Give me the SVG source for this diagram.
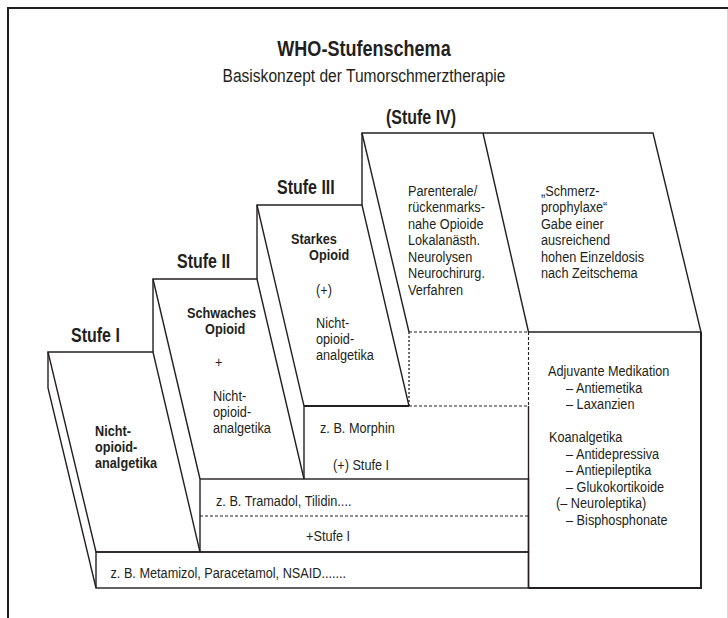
<svg xmlns="http://www.w3.org/2000/svg" width="728" height="618" viewBox="0 0 728 618">
<style>
.s{fill:none;stroke:#231f20;stroke-width:1.4;stroke-linejoin:miter}
.h{fill:none;stroke:#231f20;stroke-width:2}
.d{fill:none;stroke:#231f20;stroke-width:1.1;stroke-dasharray:3 2}
.dt{fill:none;stroke:#231f20;stroke-width:1.3;stroke-dasharray:2 2}
text{font-family:"Liberation Sans",Arial,sans-serif;fill:#231f20}
.t{font-size:15.5px}
.b{font-size:15.5px;font-weight:bold}
.lab{font-size:19.5px;font-weight:bold}
</style>
<rect width="728" height="618" fill="#fff"/>
<g id="frame">
<line x1="8" y1="8" x2="728" y2="8" class="h"/>
<line x1="8" y1="7" x2="8" y2="618" class="h"/>
<line x1="727.5" y1="9" x2="727.5" y2="618" stroke="#d8d8d8" stroke-width="1"/>
</g>
<g id="title">
<text transform="matrix(0.82 0 0 1 364 0)" x="0" y="56" text-anchor="middle" font-size="22" font-weight="bold">WHO-Stufenschema</text>
<text transform="matrix(0.82 0 0 1 364 0)" x="0" y="82" text-anchor="middle" font-size="19">Basiskonzept der Tumorschmerztherapie</text>
</g>
<g id="stufe1">
<text transform="matrix(0.82 0 0 1 71 0)" x="0" y="342" class="lab">Stufe I</text>
<polygon points="48,352 153,352 200,552 96,552" class="s"/>
<polyline points="48,352 48,388 96,588" class="s"/>
<text transform="matrix(0.82 0 0 1 95 0)" class="b"><tspan x="0" y="436">Nicht-</tspan><tspan x="0" y="452">opioid-</tspan><tspan x="0" y="468">analgetika</tspan></text>
</g>
<g id="stufe1-front">
<rect x="96" y="552" width="432.5" height="36" class="s"/>
<text transform="matrix(0.82 0 0 1 110.5 0)" x="0" y="578" class="t">z. B. Metamizol, Paracetamol, NSAID.......</text>
</g>
<g id="stufe2">
<text transform="matrix(0.82 0 0 1 177 0)" x="0" y="268" class="lab">Stufe II</text>
<polyline points="153,352 153,279 257,279 304,479" class="s"/>
<line x1="153" y1="279" x2="200" y2="479" class="s"/>
<text transform="matrix(0.82 0 0 1 187 0)" class="b"><tspan x="0" y="318">Schwaches</tspan><tspan x="22" y="334">Opioid</tspan></text>
<text transform="matrix(0.82 0 0 1 215 0)" x="0" y="367" class="t">+</text>
<text transform="matrix(0.82 0 0 1 213 0)" class="t"><tspan x="0" y="401">Nicht-</tspan><tspan x="0" y="417">opioid-</tspan><tspan x="0" y="433">analgetika</tspan></text>
</g>
<g id="stufe2-front">
<rect x="200" y="479" width="328.5" height="73" class="s"/>
<line x1="200" y1="516" x2="528" y2="516" class="d"/>
<text transform="matrix(0.82 0 0 1 216 0)" x="0" y="506" class="t">z. B. Tramadol, Tilidin....</text>
<text transform="matrix(0.82 0 0 1 306 0)" x="0" y="541" class="t">+Stufe I</text>
</g>
<g id="stufe3">
<text transform="matrix(0.82 0 0 1 277 0)" x="0" y="194" class="lab">Stufe III</text>
<polyline points="257,279 257,205 362,205 409,406" class="s"/>
<polyline points="257,205 304,406 304,479" class="s"/>
<line x1="304" y1="406" x2="409" y2="406" class="h"/>
<text transform="matrix(0.82 0 0 1 291 0)" class="b"><tspan x="0" y="244">Starkes</tspan><tspan x="22" y="260">Opioid</tspan></text>
<text transform="matrix(0.82 0 0 1 316 0)" x="0" y="295" class="t">(+)</text>
<text transform="matrix(0.82 0 0 1 316 0)" class="t"><tspan x="0" y="328">Nicht-</tspan><tspan x="0" y="344">opioid-</tspan><tspan x="0" y="360">analgetika</tspan></text>
</g>
<g id="stufe3-front">
<text transform="matrix(0.82 0 0 1 320 0)" x="0" y="433" class="t">z. B. Morphin</text>
<text transform="matrix(0.82 0 0 1 333 0)" x="0" y="470" class="t">(+) Stufe I</text>
</g>
<g id="stufe4">
<text transform="matrix(0.82 0 0 1 421 0)" x="0" y="124" class="lab" text-anchor="middle">(Stufe IV)</text>
<polyline points="362,205 362,133 653,133 701,332 528.5,332" class="s"/>
<line x1="362" y1="133" x2="409" y2="332" class="s"/>
<line x1="483" y1="133" x2="528.5" y2="332" class="s"/>
<line x1="409" y1="332" x2="528.5" y2="332" class="d"/>
<line x1="409" y1="332" x2="409" y2="406" class="dt"/>
<line x1="409" y1="406" x2="528.5" y2="406" class="d"/>
<line x1="528.5" y1="332" x2="528.5" y2="406" class="d"/>
<text transform="matrix(0.82 0 0 1 408 0)" class="t"><tspan x="0" y="196">Parenterale/</tspan><tspan x="0" y="212.5">rückenmarks-</tspan><tspan x="0" y="229">nahe Opioide</tspan><tspan x="0" y="245.5">Lokalanästh.</tspan><tspan x="0" y="262">Neurolysen</tspan><tspan x="0" y="278.5">Neurochirurg.</tspan><tspan x="0" y="295">Verfahren</tspan></text>
<text transform="matrix(0.82 0 0 1 541 0)" class="t"><tspan x="0" y="196">„Schmerz-</tspan><tspan x="0" y="212.5">prophylaxe“</tspan><tspan x="0" y="229">Gabe einer</tspan><tspan x="0" y="245.5">ausreichend</tspan><tspan x="0" y="262">hohen Einzeldosis</tspan><tspan x="0" y="278.5">nach Zeitschema</tspan></text>
</g>
<g id="adjuvant">
<line x1="528.5" y1="406" x2="528.5" y2="588" class="s"/>
<polyline points="701,332 701,588 528.5,588" class="h"/>
<text transform="matrix(0.82 0 0 1 548 0)" class="t"><tspan x="0" y="376.5">Adjuvante Medikation</tspan><tspan x="22" y="393">– Antiemetika</tspan><tspan x="22" y="409.5">– Laxanzien</tspan><tspan x="1.2" y="442.5">Koanalgetika</tspan><tspan x="22" y="459">– Antidepressiva</tspan><tspan x="22" y="475.5">– Antiepileptika</tspan><tspan x="22" y="492">– Glukokortikoide</tspan><tspan x="9.8" y="508.5">(– Neuroleptika)</tspan><tspan x="22" y="525">– Bisphosphonate</tspan></text>
</g>
<g id="connectors"/>
</svg>
